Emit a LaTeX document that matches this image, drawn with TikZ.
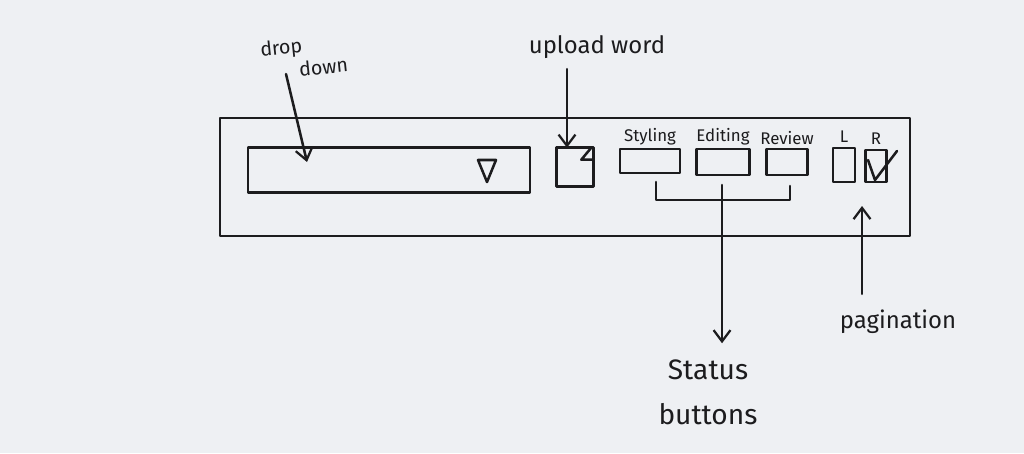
\documentclass[tikz,border=0pt]{standalone}
\usepackage{fontspec}
\setmainfont{Fira Sans}
\usetikzlibrary{arrows.meta,positioning,calc}
\definecolor{paper}{RGB}{238,240,243}
\definecolor{ink}{RGB}{28,28,30}
\begin{document}
\begin{tikzpicture}[x=0.025cm,y=-0.025cm,
  pen/.style={draw=ink,line width=1.8pt,line join=round,line cap=round},
  box/.style={pen,inner sep=0pt},
  lbl/.style={text=ink,inner sep=1pt,font=\fontsize{12}{14}\selectfont},
  note/.style={text=ink,align=center,font=\fontsize{17}{20}\selectfont},
  arr/.style={pen,-{Straight Barb[length=8pt,width=12pt,line width=1.6pt]}}]
  \fill[paper] (0,0) rectangle (1024,453);
  \useasboundingbox (0,0) rectangle (1024,453);
  % toolbar frame
  \node[box,minimum width=17.25cm,minimum height=2.95cm] (bar) at (565,177) {};
  % drop down field
  \node[box,minimum width=7.05cm,minimum height=1.125cm] (dd) at (389,170) {};
  \draw[pen] (478,160) -- (496,160) -- (487,182) -- cycle;
  \coordinate (ddtip) at (307,162);
  % upload icon
  \node[inner sep=0pt,minimum width=0.9cm,minimum height=0.95cm] (doc) at (575,167) {};
  \draw[pen] (doc.north west) -- (doc.north east) -- (doc.south east) -- (doc.south west) -- cycle;
  \draw[pen] ([xshift=-0.05cm]doc.north east) -- ++(-10,12) -- ++(12,0);
  \coordinate (uptip) at ([xshift=-0.2cm]doc.north);
  % status buttons
  \node[box,minimum width=1.5cm,minimum height=0.6cm] (sty) at (650,161) {};
  \node[box,minimum width=1.325cm,minimum height=0.65cm] (edt) at (723,162) {};
  \node[box,minimum width=1.025cm,minimum height=0.65cm] (rev) at (787,162) {};
  \node[lbl,above=1pt of sty] (styl) {Styling};
  \node[lbl,above=1pt of edt] (edtl) {Editing};
  \node[lbl,above=1pt of rev] (revl) {Review};
  % pagination buttons
  \node[box,minimum width=0.55cm,minimum height=0.85cm] (lb) at (844,165) {};
  \node[box,minimum width=0.525cm,minimum height=0.8cm] (rb) at (876,166) {};
  \node[lbl,above=2pt of lb] (lbll) {L};
  \node[lbl,above=2pt of rb] (lblr) {R};
  \draw[pen] (868,160) -- (875,180) -- (897,151);
  \coordinate (pagtip) at (862,206);
  % bracket round the status buttons
  \coordinate (brl) at (656,182);
  \coordinate (brr) at (790,186);
  \coordinate (stem) at (722,185);
  \draw[pen] (brl) -- ++(0,18) -| (brr);
  % notes
  \node[note,align=left,rotate=6,font=\fontsize{14}{17}\selectfont] (ddl) at (304,57) {drop\\\hspace{26pt}down};
  \node[note] (upw) at (597,47) {upload word};
  \node[note,font=\fontsize{20}{32}\selectfont] (stat) at (708,392) {Status\\buttons};
  \node[note] (pag) at (898,322) {pagination};
  % arrows
  \draw[arr] (286,74) -- (ddtip);
  \draw[arr,shorten <=4pt] (uptip |- upw.south) -- (uptip);
  \draw[arr,shorten >=8pt] (stem) -- (stem |- stat.north);
  \draw[arr,shorten <=8pt] (pagtip |- pag.north) -- (pagtip);
\end{tikzpicture}
\end{document}
